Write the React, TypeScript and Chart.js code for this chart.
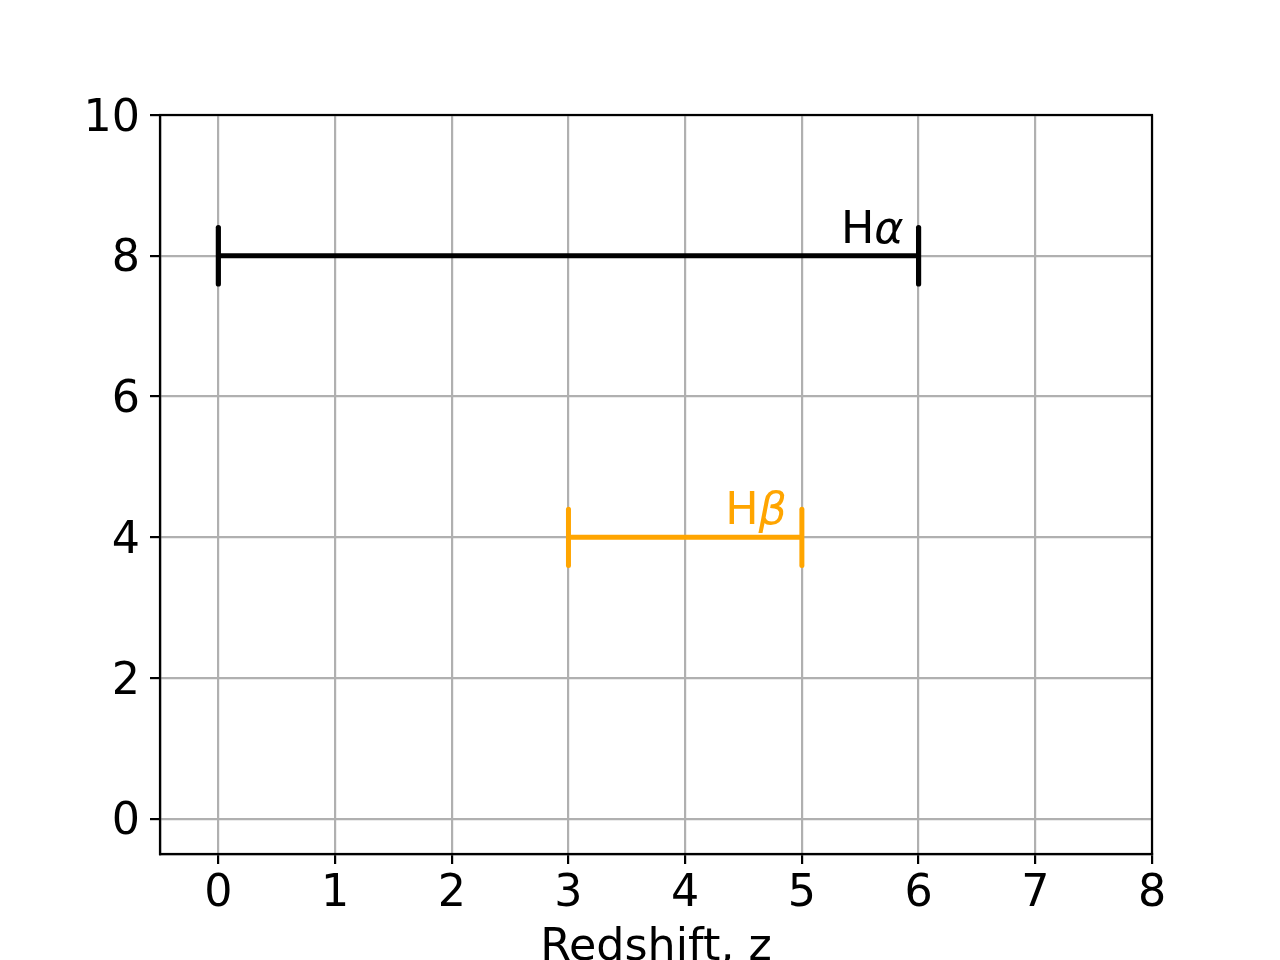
import React, { useEffect, useRef } from "react";
import { Chart, registerables } from "chart.js";

Chart.register(...registerables);

// ---- data ----
const lineNames = ["H", "H"];
const greekSymbols = ["α", "β"];
const zStart = [0, 3];
const zEnd = [6, 5];
const yLevel = [8, 4];
const capHalfHeight = 0.4;
const lineColors = ["#000000", "#FFA500"];
const lineWidths = [5.2, 5];
const xTicks = [0, 1, 2, 3, 4, 5, 6, 7, 8];
const yTicks = [0, 2, 4, 6, 8, 10];
const xTitle = "Redshift, z";

const FONT = "'DejaVu Sans', 'Liberation Sans', sans-serif";
const FS = 44.4;

export default function App() {
  const ref = useRef<HTMLCanvasElement | null>(null);

  useEffect(() => {
    document.body.style.margin = "0";
    const canvas = ref.current!;
    const datasets: any[] = [];
    for (let i = 0; i < zStart.length; i++) {
      datasets.push({
        data: [
          { x: zStart[i], y: yLevel[i] },
          { x: zEnd[i], y: yLevel[i] },
        ],
        showLine: true,
        borderColor: lineColors[i],
        borderWidth: lineWidths[i],
        borderCapStyle: "butt",
        pointRadius: 0,
      });
      for (const xv of [zStart[i], zEnd[i]]) {
        datasets.push({
          data: [
            { x: xv, y: yLevel[i] - capHalfHeight },
            { x: xv, y: yLevel[i] + capHalfHeight },
          ],
          showLine: true,
          borderColor: lineColors[i],
          borderWidth: lineWidths[i],
          borderCapStyle: "round",
          pointRadius: 0,
        });
      }
    }

    const decor = {
      id: "decor",
      afterDatasetsDraw(chart: any) {
        const ctx = chart.ctx;
        const { left, right, top, bottom } = chart.chartArea;
        const xs = chart.scales.x;
        const ys = chart.scales.y;
        ctx.save();
        // frame
        ctx.strokeStyle = "#000";
        ctx.lineWidth = 2.2;
        ctx.strokeRect(left, top, right - left, bottom - top);
        // labels
        ctx.textBaseline = "alphabetic";
        ctx.textAlign = "left";
        for (let i = 0; i < zEnd.length; i++) {
          const px = xs.getPixelForValue(zEnd[i]) - 15;
          const py = ys.getPixelForValue(yLevel[i]) - 13;
          ctx.font = `${FS}px ${FONT}`;
          const w1 = ctx.measureText(lineNames[i]).width;
          ctx.font = `oblique ${FS}px ${FONT}`;
          const w2 = ctx.measureText(greekSymbols[i]).width;
          const x0 = px - w1 - w2;
          ctx.fillStyle = lineColors[i];
          ctx.font = `${FS}px ${FONT}`;
          ctx.fillText(lineNames[i], x0, py);
          ctx.font = `oblique ${FS}px ${FONT}`;
          ctx.fillText(greekSymbols[i], x0 + w1, py);
        }
        // x title
        ctx.fillStyle = "#000";
        ctx.font = `${FS}px ${FONT}`;
        ctx.textAlign = "center";
        ctx.fillText(xTitle, (left + right) / 2, bottom + 106);
        ctx.restore();
      },
    };

    const chart = new Chart(canvas, {
      type: "scatter",
      data: { datasets },
      options: {
        responsive: false,
        animation: false,
        devicePixelRatio: 1,
        layout: { padding: { left: 0, top: 115, right: 128, bottom: 0 } },
        plugins: { legend: { display: false }, tooltip: { enabled: false } },
        scales: {
          x: {
            type: "linear",
            min: -0.5,
            max: 8,
            afterBuildTicks: (s: any) => {
              s.ticks = xTicks.map((v) => ({ value: v }));
            },
            afterFit: (s: any) => {
              s.height = 106;
            },
            grid: {
              color: "#b0b0b0",
              lineWidth: 2.2,
              tickColor: "#000",
              tickLength: 10,
              tickWidth: 2.2,
            },
            border: { display: true, color: "#000", width: 2.2 },
            ticks: {
              color: "#000",
              font: { family: FONT, size: FS },
              padding: 4,
              maxRotation: 0,
              autoSkip: false,
            },
          },
          y: {
            type: "linear",
            min: -0.5,
            max: 10,
            afterBuildTicks: (s: any) => {
              s.ticks = yTicks.map((v) => ({ value: v }));
            },
            afterFit: (s: any) => {
              s.width = 160;
            },
            grid: {
              color: "#b0b0b0",
              lineWidth: 2.2,
              tickColor: "#000",
              tickLength: 10,
              tickWidth: 2.2,
            },
            border: { display: true, color: "#000", width: 2.2 },
            ticks: {
              color: "#000",
              font: { family: FONT, size: FS },
              padding: 10,
              labelOffset: 4,
              autoSkip: false,
            },
          },
        },
      } as any,
      plugins: [decor],
    });
    return () => chart.destroy();
  }, []);

  return (
    <div style={{ width: 1280, height: 960, background: "#fff" }}>
      <canvas ref={ref} width={1280} height={960} style={{ display: "block" }} />
    </div>
  );
}
